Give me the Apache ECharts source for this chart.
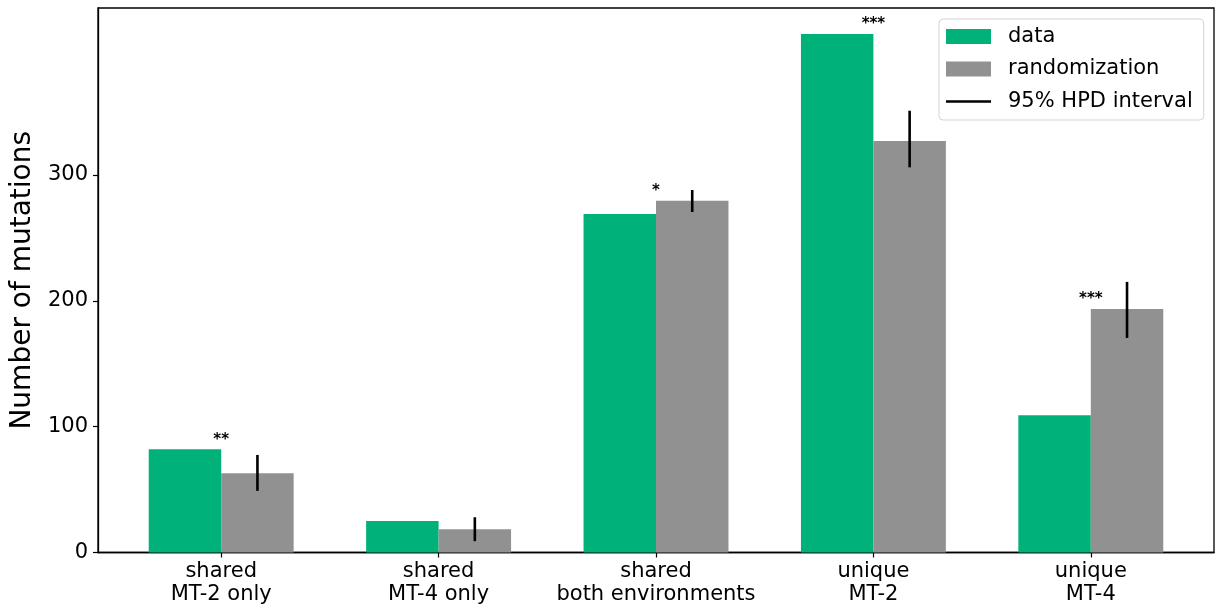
<!DOCTYPE html>
<html>
<head>
<meta charset="utf-8">
<script src="https://cdn.jsdelivr.net/npm/echarts@6/dist/echarts.min.js"></script>
<style>
  html, body { margin: 0; padding: 0; background: #ffffff; }
  #chart { width: 1217px; height: 609px; }
</style>
</head>
<body>
<div id="chart"></div>
<script>
// Mutation classes along the x axis
const categories = ['shared\nMT-2 only', 'shared\nMT-4 only', 'shared\nboth environments', 'unique\nMT-2', 'unique\nMT-4'];
// Observed counts
const observed = [82, 25, 269, 412, 109];
// Mean counts under randomization
const randomized = [63, 18.5, 279.5, 327, 193.5];
// 95% HPD interval of the randomization
const hpdLow = [49, 9, 270.5, 306, 170.5];
const hpdHigh = [77.5, 28, 288, 351, 215];
// Significance marks per class
const significance = ['**', '', '*', '***', '***'];
// Y tick values
const yTicks = [0, 100, 200, 300];

const FONT = 'DejaVu Sans';
const GREEN = '#00b27a';
const GREY = '#919191';
const BAR_W = 1 / 3;

const chart = echarts.init(document.getElementById('chart'), null, { renderer: 'canvas' });

function barRenderer(offset, color) {
  return function (params, api) {
    const x = api.value(0);
    const v = api.value(1);
    const p0 = api.coord([x + offset, v]);
    const p1 = api.coord([x + offset + BAR_W, 0]);
    return {
      type: 'rect',
      shape: { x: p0[0], y: p0[1], width: p1[0] - p0[0], height: p1[1] - p0[1] },
      style: { fill: color }
    };
  };
}

const starData = [];
significance.forEach(function (s, i) {
  if (s) starData.push([i, Math.max(observed[i], randomized[i]), i]);
});

const option = {
  animation: false,
  backgroundColor: '#ffffff',
  grid: {
    left: 98, right: 3, top: 8, bottom: 56.5,
    show: true, borderColor: '#000', borderWidth: 1.3, backgroundColor: 'transparent'
  },
  xAxis: {
    type: 'value',
    min: -0.5667,
    max: 4.5667,
    splitLine: { show: false },
    axisLine: { show: true, onZero: false, lineStyle: { color: '#000', width: 1.3 } },
    axisTick: { show: true, length: 5, customValues: [0, 1, 2, 3, 4], lineStyle: { color: '#000', width: 1.2 } },
    axisLabel: {
      customValues: [0, 1, 2, 3, 4],
      formatter: function (v) { return categories[Math.round(v)]; },
      fontFamily: FONT, fontSize: 21, lineHeight: 23, color: '#000', margin: 8
    }
  },
  yAxis: {
    type: 'value',
    min: 0,
    max: 432.6,
    name: 'Number of mutations',
    nameLocation: 'middle',
    nameGap: 47,
    nameTextStyle: { fontFamily: FONT, fontSize: 28, color: '#000' },
    splitLine: { show: false },
    axisLine: { show: true, onZero: false, lineStyle: { color: '#000', width: 1.3 } },
    axisTick: { show: true, length: 5, customValues: yTicks, lineStyle: { color: '#000', width: 1.2 } },
    axisLabel: {
      customValues: yTicks,
      fontFamily: FONT, fontSize: 21, color: '#000', margin: 10
    }
  },
  legend: {
    orient: 'vertical',
    left: 939,
    top: 19,
    selectedMode: false,
    itemWidth: 45,
    itemHeight: 15,
    itemGap: 11.5,
    padding: [7, 11, 8, 7],
    borderColor: '#d4d4d4',
    borderWidth: 1,
    borderRadius: 4,
    backgroundColor: 'rgba(255,255,255,0.85)',
    textStyle: { fontFamily: FONT, fontSize: 21, lineHeight: 21, color: '#000', padding: [0, 0, 0, 12] },
    data: [
      { name: 'data', icon: 'rect' },
      { name: 'randomization', icon: 'rect' },
      { name: '95% HPD interval', icon: 'path://M0,0M45,15M0,6.25L45,6.25L45,8.75L0,8.75Z' }
    ]
  },
  series: [
    {
      name: 'data',
      type: 'custom',
      itemStyle: { color: GREEN },
      encode: { x: 0, y: 1 },
      data: observed.map(function (v, i) { return [i, v]; }),
      renderItem: barRenderer(-BAR_W, GREEN)
    },
    {
      name: 'randomization',
      type: 'custom',
      itemStyle: { color: GREY },
      encode: { x: 0, y: 1 },
      data: randomized.map(function (v, i) { return [i, v]; }),
      renderItem: barRenderer(0, GREY)
    },
    {
      name: '95% HPD interval',
      type: 'custom',
      itemStyle: { color: '#000' },
      encode: { x: 0, y: [1, 2] },
      data: hpdLow.map(function (v, i) { return [i, v, hpdHigh[i]]; }),
      renderItem: function (params, api) {
        const x = api.value(0) + BAR_W / 2;
        const a = api.coord([x, api.value(1)]);
        const b = api.coord([x, api.value(2)]);
        return {
          type: 'line',
          shape: { x1: a[0], y1: a[1], x2: b[0], y2: b[1] },
          style: { stroke: '#000', lineWidth: 2.6 }
        };
      }
    },
    {
      name: 'significance',
      type: 'custom',
      silent: true,
      encode: { x: 0, y: 1 },
      data: starData,
      renderItem: function (params, api) {
        const p = api.coord([api.value(0), api.value(1)]);
        return {
          type: 'text',
          x: p[0],
          y: p[1] - 2,
          style: {
            text: significance[api.value(2)],
            fill: '#000',
            fontFamily: FONT,
            fontSize: 15,
            fontWeight: 'bold',
            align: 'center',
            verticalAlign: 'bottom'
          }
        };
      }
    }
  ]
};

chart.setOption(option);
</script>
</body>
</html>
